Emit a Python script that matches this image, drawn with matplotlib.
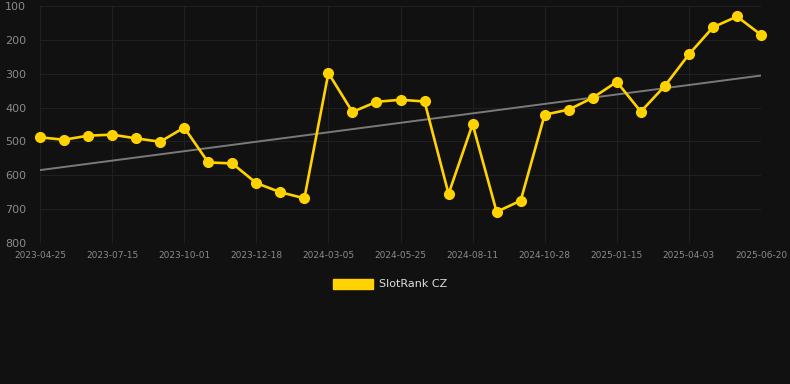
import numpy as np
import matplotlib
matplotlib.use("Agg")
import matplotlib.pyplot as plt
from matplotlib.patches import Patch

# rank values (lower = better, axis inverted)
ranks = [488, 495, 483, 480, 491, 501, 459, 562, 565, 623, 650, 668,
         298, 413, 383, 377, 382, 655, 449, 708, 675, 421, 406, 371,
         324, 412, 336, 243, 163, 131, 185]
tick_labels = ["2023-04-25", "2023-07-15", "2023-10-01", "2023-12-18",
               "2024-03-05", "2024-05-25", "2024-08-11", "2024-10-28",
               "2025-01-15", "2025-04-03", "2025-06-20"]
series_name = "SlotRank CZ"

bg = "#111111"
gold = "#FFD200"

x = np.arange(len(ranks))
slope, icpt = np.polyfit(x, ranks, 1)

fig = plt.figure(figsize=(7.9, 3.84), dpi=100, facecolor=bg)
ax = fig.add_axes([40/790, 1 - 243/384, 721/790, 237/384], facecolor=bg)

ax.plot(x, slope*x + icpt, color="#7a7a7a", lw=1.4, zorder=2)
ax.plot(x, ranks, color=gold, lw=1.9, marker="o", ms=7, zorder=3, clip_on=False)

ax.set_xlim(0, len(ranks) - 1)
ax.set_ylim(800, 100)
ax.set_yticks(range(100, 900, 100))
ax.set_xticks(x[::3])
ax.set_xticklabels(tick_labels)
ax.grid(True, color="#202020", lw=0.8)
ax.set_axisbelow(True)
for s in ax.spines.values():
    s.set_visible(False)
ax.tick_params(axis="y", length=0, pad=10, labelsize=8, labelcolor="#8a8a8a")
ax.tick_params(axis="x", length=0, pad=6, labelsize=6.5, labelcolor="#8a8a8a")

leg = fig.legend(handles=[Patch(color=gold, label=series_name)], loc="center",
                 bbox_to_anchor=(390/790, 1 - 284/384), frameon=False,
                 handlelength=3.6, handleheight=1.0, fontsize=8, labelcolor="#dddddd",
                 handletextpad=0.6)

fig.savefig("out.png", dpi=100, facecolor=bg)
